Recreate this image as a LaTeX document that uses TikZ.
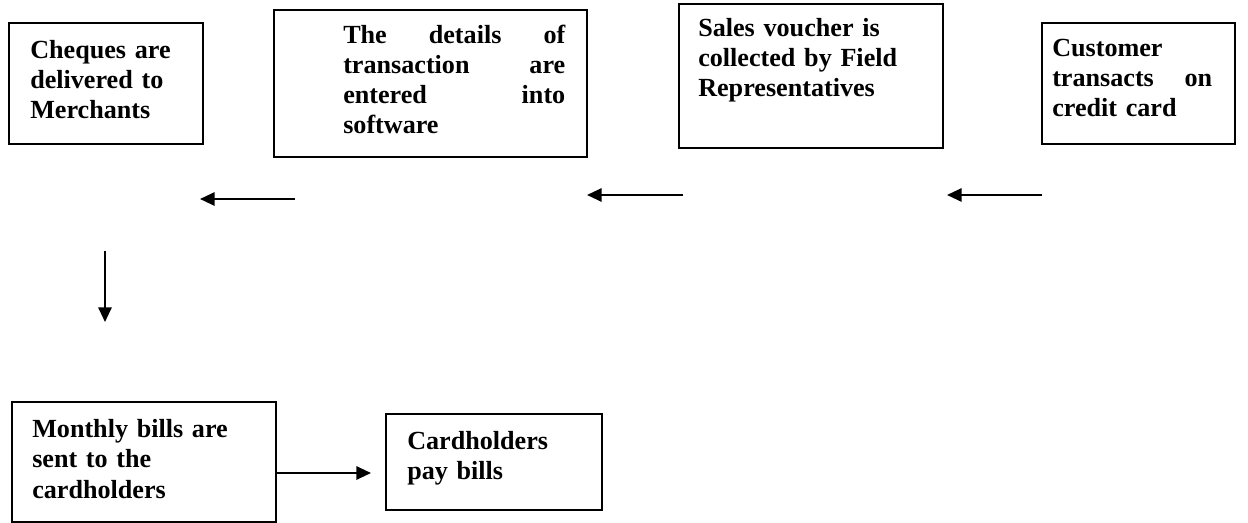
\documentclass[tikz,border=0pt]{standalone}
\usepackage{fontspec}
\setmainfont{Liberation Serif}
\usetikzlibrary{arrows.meta}
\begin{document}
\begin{tikzpicture}[x=0.75pt,y=-0.75pt,
  box/.style={draw=black, line width=1.5pt, inner sep=0pt, anchor=north west},
  txt/.style={inner sep=0pt, anchor=base west, align=left,
    font=\fontsize{19.6}{22.5}\selectfont\bfseries},
  flow/.style={line width=1.5pt, -{Triangle[length=11pt,width=10pt]}}]
\useasboundingbox[fill=white] (0,0) rectangle (1248,523);

% boxes
\node[box, minimum width=145.5pt, minimum height=90.75pt] (b1) at (8,22) {};
\node[box, minimum width=234.75pt, minimum height=110.25pt] (b2) at (273,9) {};
\node[box, minimum width=198pt, minimum height=108pt] (b3) at (678,3) {};
\node[box, minimum width=144.75pt, minimum height=90.75pt] (b4) at (1041,22) {};
\node[box, minimum width=198pt, minimum height=90pt] (b5) at (11,401) {};
\node[box, minimum width=162pt, minimum height=72pt] (b6) at (385,413) {};

% texts
\node[txt, text width=130pt] (t1) at (30,59) {Cheques are\\delivered to\\Merchants};
\node[txt, text width=166.5pt] (t2) at (343,44) {The\hfill details\hfill of\\transaction\hfill are\\entered\hfill into\\software};
\node[txt, text width=180pt] (t3) at (698,37) {Sales voucher is\\collected by Field\\Representatives};
\node[txt, text width=120pt] (t4) at (1052,57) {Customer\\transacts\hfill on\\credit card};
\node[txt, text width=175pt, font=\fontsize{19.6}{23}\selectfont\bfseries] (t5) at (32,437) {Monthly bills are\\sent to the\\cardholders};
\node[txt, text width=140pt, font=\fontsize{19.6}{23}\selectfont\bfseries] (t6) at (407,449) {Cardholders\\pay bills};

% arrows
\coordinate (a1s) at (295,199); \coordinate (a1e) at (200,199);
\coordinate (a2s) at (683,195); \coordinate (a2e) at (587,195);
\coordinate (a3s) at (1042,195); \coordinate (a3e) at (947,195);
\coordinate (a4s) at (105,251); \coordinate (a4e) at (105,322);
\coordinate (a5s) at (275,473); \coordinate (a5e) at (371,473);
\draw[flow] (a1s) -- (a1e);
\draw[flow] (a2s) -- (a2e);
\draw[flow] (a3s) -- (a3e);
\draw[flow] (a4s) -- (a4e);
\draw[flow] (a5s) -- (a5e);
\end{tikzpicture}
\end{document}
